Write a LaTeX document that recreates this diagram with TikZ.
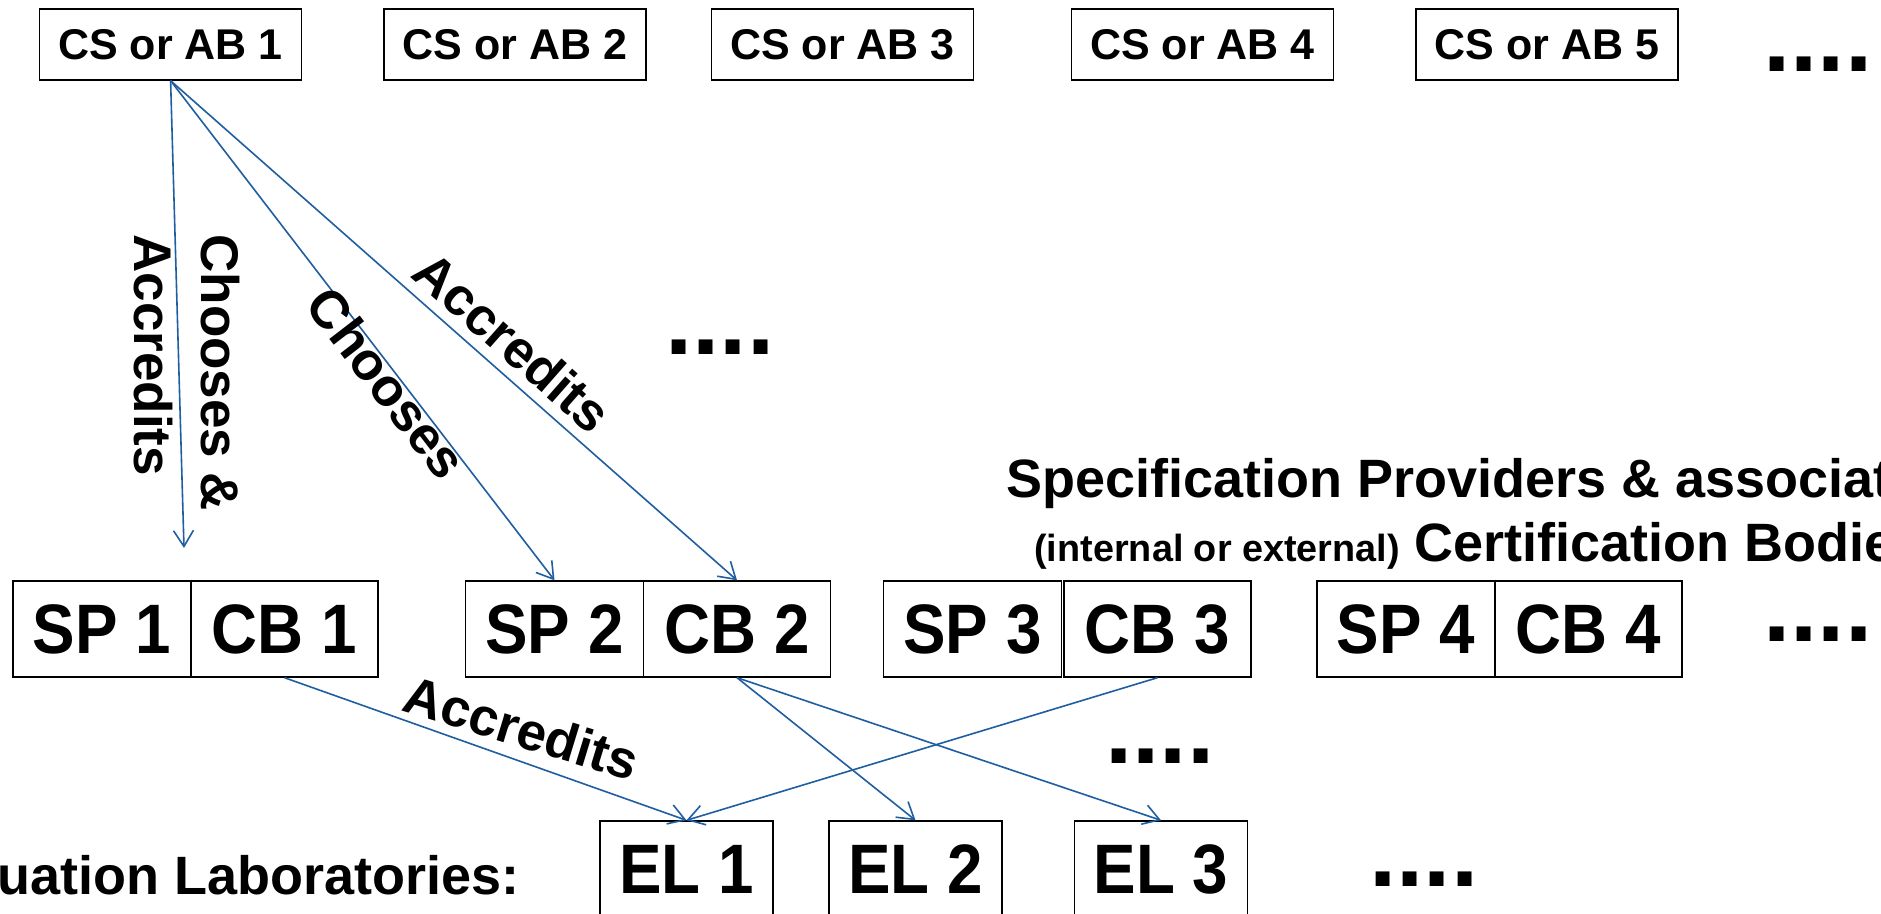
\documentclass[tikz,border=0pt]{standalone}
\usepackage{fontspec}
\setmainfont{Liberation Sans}
\newfontfamily\narrowsans[FakeStretch=0.91]{Liberation Sans}
\usetikzlibrary{arrows.meta}
\definecolor{linkblue}{RGB}{31,94,160}
\begin{document}
\begin{tikzpicture}[x=0.5pt,y=-0.5pt,
  csbox/.style={draw=black,line width=0.7pt,inner sep=0pt,minimum width=131pt,minimum height=35.5pt,font=\bfseries\fontsize{21.5}{24}\selectfont},
  bigbox/.style={draw=black,line width=0.7pt,inner sep=0pt,minimum height=48pt,font=\narrowsans\bfseries\fontsize{35}{38}\selectfont},
  spbox/.style={bigbox,minimum width=89pt},
  cbbox/.style={bigbox,minimum width=93.5pt},
  elbox/.style={bigbox,minimum width=86.5pt},
  lbl/.style={inner sep=0pt,font=\bfseries\fontsize{26.5}{33.5}\selectfont},
  hdr/.style={inner sep=0pt,anchor=base west,font=\bfseries\fontsize{27}{30}\selectfont},
  dots/.style={inner sep=0pt,anchor=base west,font=\bfseries\fontsize{49}{52}\selectfont},
  link/.style={draw=linkblue,line width=0.8pt,-{Straight Barb[length=8pt,width=10pt,line width=0.8pt]}}]
\clip (0,0) rectangle (1881,914);
\fill[white] (0,0) rectangle (1881,914);
% top row
\node[csbox] (cs1) at (170.6,44.5) {CS or AB 1};
\node[csbox] (cs2) at (514.8,44.5) {CS or AB 2};
\node[csbox] (cs3) at (842.4,44.5) {CS or AB 3};
\node[csbox] (cs4) at (1202.4,44.5) {CS or AB 4};
\node[csbox] (cs5) at (1546.8,44.5) {CS or AB 5};
\node[dots] (d1) at (1763,72) {....};
% middle row
\node[spbox] (sp1) at (102,629) {SP 1};
\node[cbbox] (cb1) at (284.5,629) {CB 1};
\node[spbox] (sp2) at (554.5,629) {SP 2};
\node[cbbox] (cb2) at (737,629) {CB 2};
\node[spbox] (sp3) at (972.5,629) {SP 3};
\node[cbbox] (cb3) at (1157.5,629) {CB 3};
\node[spbox] (sp4) at (1406,629) {SP 4};
\node[cbbox] (cb4) at (1588.5,629) {CB 4};
\node[dots] (d2) at (1763,642) {....};
\node[dots] (d3) at (665,355) {....};
% header of the middle row
\node[hdr] (hdr1) at (1006,498) {Specification Providers \& associat};
\node[hdr] (hdr2) at (1034,562) {{\fontsize{18.9}{20}\selectfont (internal or external)} Certification Bodie};
% bottom row
\node[elbox] (el1) at (686.5,869) {EL 1};
\node[elbox] (el2) at (915.5,869) {EL 2};
\node[elbox] (el3) at (1161,869) {EL 3};
\node[dots] (d4) at (1105,763) {....};
\node[dots] (d5) at (1369,886) {....};
\node[hdr] (evl) at (-3,894) {uation Laboratories:};
% connectors
\coordinate (free1) at (184,548);
\draw[link] (cs1.south) -- (free1);
\draw[link] (cs1.south) -- (sp2.north);
\draw[link] (cs1.south) -- (cb2.north);
\draw[link] (cb1.south) -- (el1.north);
\draw[link] (cb3.south) -- (el1.north);
\draw[link] (cb2.south) -- (el2.north);
\draw[link] (cb2.south) -- (el3.north);
% labels
\node[lbl,rotate=-90,anchor=north west,align=left] (l1) at (240,234) {Chooses \&\\Accredits};
\node[lbl,rotate=-52.4] (l2) at (387,383) {Chooses};
\node[lbl,rotate=-41.4] (l3) at (513,342) {Accredits};
\node[lbl,rotate=-17] (l4) at (522,728) {Accredits};
\end{tikzpicture}
\end{document}
